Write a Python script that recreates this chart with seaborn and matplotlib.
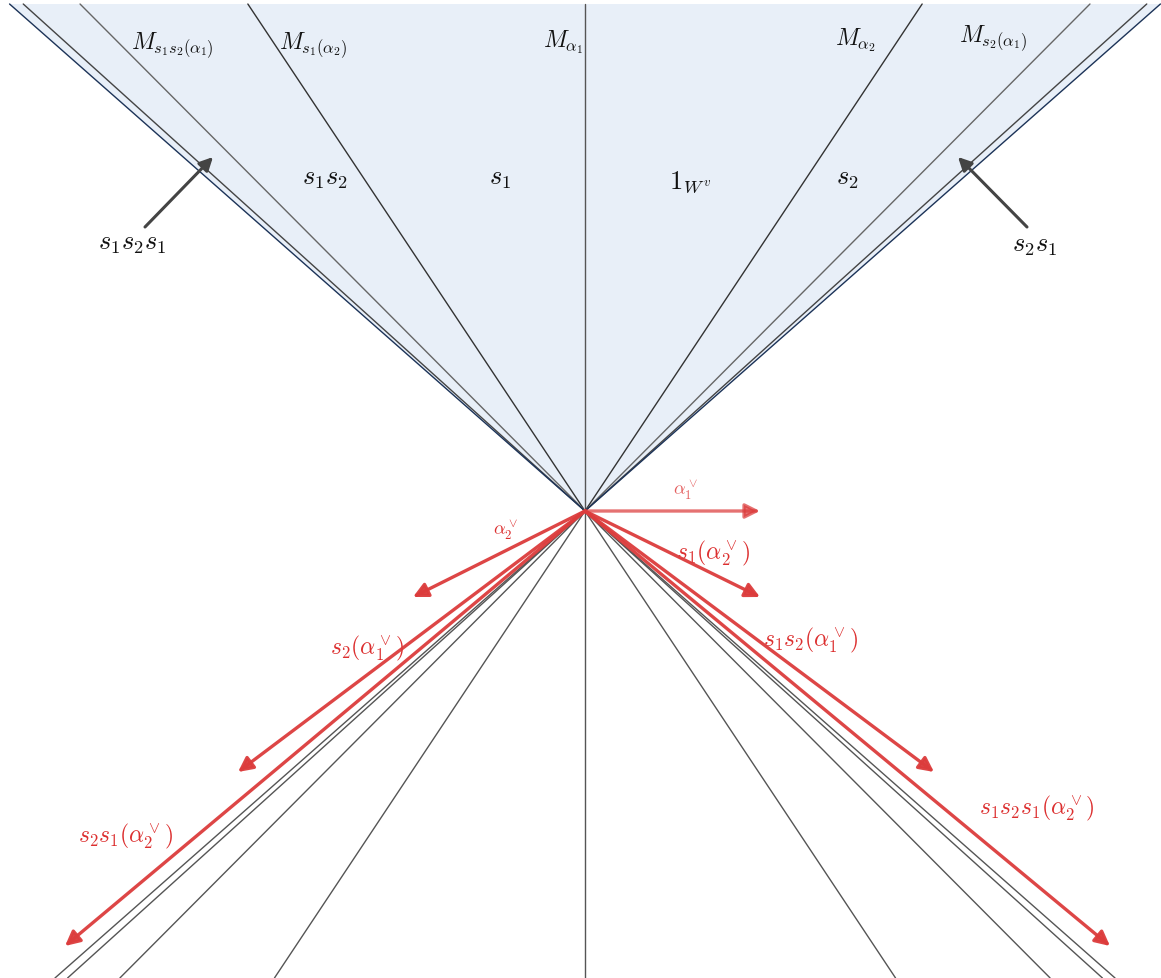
import numpy as np
import pandas as pd
import matplotlib
matplotlib.use("Agg")
import matplotlib.pyplot as plt
import seaborn as sns

# --- walls: |dx/dy| ratio of each line through the origin ---
wall_names = ["M_a1", "M_s1a2", "M_s1s2a1", "inner", "boundary"]
wall_ratio = [0.0, 0.665, 0.996, 1.108, 1.135]
wall_color = ["#555555", "#333333", "#666666", "#444444", "#1c3358"]

# --- labels of walls (upper half) ---
wall_labels = [r"$M_{s_1s_2(\alpha_1)}$", r"$M_{s_1(\alpha_2)}$", r"$M_{\alpha_1}$",
               r"$M_{\alpha_2}$", r"$M_{s_2(\alpha_1)}$"]
wall_label_x = [-413, -272, -22, 270, 408]
wall_label_y = [467, 467, 470, 472, 474]

# --- chamber labels ---
chamber_labels = [r"$s_1s_2$", r"$s_1$", r"$1_{W^v}$", r"$s_2$"]
chamber_x = [-260, -85, 105, 262]
chamber_y = [334, 334, 330, 334]

# --- thin chambers pointed at by arrows ---
thin_labels = [r"$s_1s_2s_1$", r"$s_2s_1$"]
thin_text_x = [-453, 450]
thin_text_y = [269, 267]
thin_tail_x = [-440, 442]
thin_tail_y = [284, 284]
thin_head_x = [-372, 373]
thin_head_y = [354, 354]

# --- coroots (red arrows) ---
coroot_labels = [r"$\alpha_1^\vee$", r"$\alpha_2^\vee$", r"$s_1(\alpha_2^\vee)$",
                 r"$s_2(\alpha_1^\vee)$", r"$s_1s_2(\alpha_1^\vee)$",
                 r"$s_2s_1(\alpha_2^\vee)$", r"$s_1s_2s_1(\alpha_2^\vee)$"]
coroot_x = [175, -172, 175, -347, 349, -520, 525]
coroot_y = [0, -86, -86, -261, -261, -435, -435]
coroot_text_x = [100, -80, 128, -218, 225, -460, 452]
coroot_text_y = [22, -18, -41, -136, -128, -324, -296]
coroot_size = [13, 13, 17, 17, 17, 17, 17]
coroot_alpha = [0.72, 0.95, 0.95, 0.95, 0.95, 0.95, 0.95]

sns.set_theme(style="white")
plt.rcParams["mathtext.fontset"] = "cm"

fig = plt.figure(figsize=(11.61, 9.79), dpi=100)
ax = fig.add_axes([0, 0, 1, 1])
ax.set_xlim(-585, 576)
ax.set_ylim(-467, 512)
ax.axis("off")

top, bottom = 507, -467

# Tits cone fill
r_b = wall_ratio[-1]
ax.fill([0, -r_b * top, r_b * top], [0, top, top], color="#e8eff8", zorder=0, lw=0)

# walls as full lines through the origin
rows = []
for name, r, c in zip(wall_names, wall_ratio, wall_color):
    sides = [1] if r == 0 else [-1, 1]
    for s in sides:
        uid = f"{name}_{s}"
        rows.append(dict(unit=uid, x=0, y=0, name=name))
        rows.append(dict(unit=uid, x=s * r * top, y=top, name=name))
walls = pd.DataFrame(rows)
sns.lineplot(data=walls, x="x", y="y", units="unit", hue="name",
             palette=dict(zip(wall_names, wall_color)), estimator=None,
             sort=False, lw=1.0, legend=False, ax=ax, zorder=2)
# lower half: all walls in gray
for r in wall_ratio:
    for s in ([1] if r == 0 else [-1, 1]):
        ax.plot([0, s * r * bottom], [0, bottom], color="#555555", lw=1.0, zorder=2)

for lab, x, y in zip(wall_labels, wall_label_x, wall_label_y):
    ax.text(x, y, lab, fontsize=17, ha="center", va="center", color="#111111")

for lab, x, y in zip(chamber_labels, chamber_x, chamber_y):
    ax.text(x, y, lab, fontsize=19, ha="center", va="center", color="#111111")

for lab, tx, ty, x0, y0, x1, y1 in zip(thin_labels, thin_text_x, thin_text_y,
                                       thin_tail_x, thin_tail_y, thin_head_x, thin_head_y):
    ax.text(tx, ty, lab, fontsize=19, ha="center", va="center", color="#111111")
    ax.annotate("", xy=(x1, y1), xytext=(x0, y0),
                arrowprops=dict(arrowstyle="-|>", color="#444444", lw=2.2,
                                mutation_scale=20, shrinkA=0, shrinkB=0))

for lab, x, y, tx, ty, fs, a in zip(coroot_labels, coroot_x, coroot_y, coroot_text_x,
                                    coroot_text_y, coroot_size, coroot_alpha):
    ax.annotate("", xy=(x, y), xytext=(0, 0),
                arrowprops=dict(arrowstyle="-|>", color="#dc3c3c", alpha=a, lw=2.4,
                                mutation_scale=22, shrinkA=0, shrinkB=0), zorder=5)
    ax.text(tx, ty, lab, fontsize=fs, ha="center", va="center", color="#dc2f2f",
            alpha=min(1.0, a + 0.05))

fig.savefig("out.png", dpi=100)
